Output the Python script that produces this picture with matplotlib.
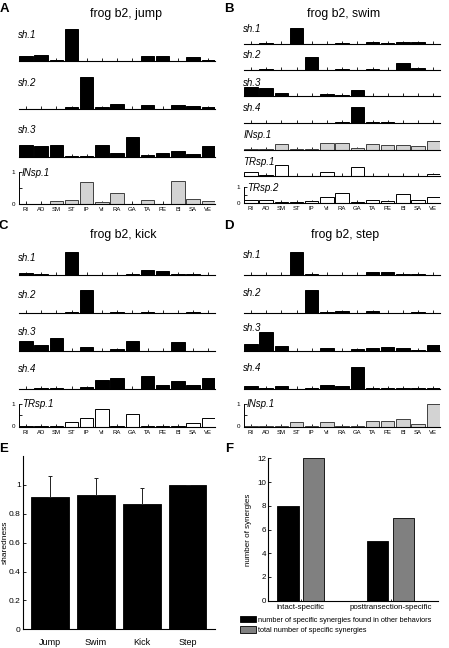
import numpy as np
import matplotlib
matplotlib.use('Agg')
import matplotlib.pyplot as plt

plt.rcParams['font.family'] = ['Liberation Sans', 'DejaVu Sans']

# muscles on the x axis of panels A-D
muscles = ['RI', 'AD', 'SM', 'ST', 'IP', 'VI', 'RA', 'GA', 'TA', 'PE', 'BI', 'SA', 'VE']

# A: jump
jump_sh1 = [0.16, 0.19, 0.04, 1.00, 0.01, 0.01, 0.01, 0.01, 0.17, 0.15, 0.01, 0.12, 0.03]
jump_sh2 = [0.01, 0.01, 0.01, 0.05, 1.00, 0.07, 0.16, 0.01, 0.13, 0.01, 0.13, 0.09, 0.06]
jump_sh3 = [0.39, 0.33, 0.39, 0.03, 0.03, 0.39, 0.14, 0.61, 0.07, 0.14, 0.19, 0.10, 0.33]
jump_insp1 = [0.00, 0.00, 0.08, 0.13, 0.68, 0.05, 0.33, 0.01, 0.12, 0.01, 0.73, 0.15, 0.10]

# B: swim
swim_sh1 = [0.01, 0.06, 0.01, 1.00, 0.01, 0.01, 0.02, 0.01, 0.10, 0.02, 0.10, 0.10, 0.01]
swim_sh2 = [0.01, 0.03, 0.01, 0.02, 0.85, 0.01, 0.06, 0.01, 0.05, 0.01, 0.43, 0.15, 0.01]
swim_sh3 = [0.57, 0.55, 0.24, 0.02, 0.02, 0.17, 0.08, 0.39, 0.01, 0.02, 0.01, 0.03, 0.04]
swim_sh4 = [0.01, 0.02, 0.01, 0.01, 0.01, 0.02, 0.05, 1.00, 0.04, 0.03, 0.02, 0.02, 0.02]
swim_insp1 = [0.01, 0.03, 0.37, 0.01, 0.01, 0.39, 0.43, 0.10, 0.37, 0.30, 0.30, 0.20, 0.52]
swim_trsp1 = [0.24, 0.04, 0.74, 0.01, 0.01, 0.26, 0.01, 0.57, 0.01, 0.03, 0.01, 0.01, 0.15]
swim_trsp2 = [0.17, 0.15, 0.04, 0.02, 0.10, 0.39, 0.61, 0.02, 0.15, 0.10, 0.57, 0.15, 0.37]

# C: kick
kick_sh1 = [0.12, 0.08, 0.01, 1.00, 0.02, 0.01, 0.01, 0.05, 0.26, 0.18, 0.06, 0.08, 0.01]
kick_sh2 = [0.01, 0.01, 0.01, 0.05, 1.00, 0.01, 0.07, 0.01, 0.07, 0.01, 0.03, 0.05, 0.01]
kick_sh3 = [0.45, 0.29, 0.59, 0.01, 0.19, 0.01, 0.09, 0.44, 0.01, 0.03, 0.41, 0.01, 0.02]
kick_sh4 = [0.01, 0.03, 0.03, 0.01, 0.07, 0.38, 0.48, 0.01, 0.55, 0.16, 0.32, 0.18, 0.48]
kick_trsp1 = [0.02, 0.02, 0.01, 0.18, 0.35, 0.75, 0.02, 0.55, 0.01, 0.01, 0.01, 0.17, 0.37]

# D: step
step_sh1 = [0.03, 0.03, 0.01, 1.00, 0.05, 0.01, 0.01, 0.03, 0.16, 0.14, 0.05, 0.05, 0.01]
step_sh2 = [0.01, 0.01, 0.03, 0.01, 1.00, 0.05, 0.08, 0.01, 0.11, 0.03, 0.03, 0.06, 0.01]
step_sh3 = [0.32, 0.82, 0.23, 0.01, 0.01, 0.12, 0.01, 0.10, 0.15, 0.19, 0.15, 0.04, 0.26]
step_sh4 = [0.11, 0.02, 0.14, 0.01, 0.03, 0.16, 0.12, 0.96, 0.03, 0.03, 0.04, 0.03, 0.03]
step_insp1 = [0.01, 0.01, 0.01, 0.20, 0.04, 0.20, 0.03, 0.02, 0.24, 0.26, 0.33, 0.10, 0.98]

# E: sharedness per behavior
behaviors = ['Jump', 'Swim', 'Kick', 'Step']
sharedness = [0.915, 0.93, 0.865, 0.998]
sharedness_err = [0.145, 0.117, 0.113, 0.003]

# F: specific synergies
categories = ['intact-specific', 'posttransection-specific']
found_other = [8, 5]
total_specific = [12, 7]

W, H = 449, 648
fig = plt.figure(figsize=(W / 100, H / 100), dpi=100)


def add_ax(left, right, base, height):
    # pixel box -> figure fraction
    return fig.add_axes([left / W, 1 - base / H, (right - left) / W, height / H])


colors = {'sh': ('black', 'black'), 'IN': ('#d3d3d3', '#404040'), 'TR': ('white', 'black')}

panels = [
    ('frog b2, jump', 19.3, 215, [61, 109, 157, 204], 32, [0.81, 0.81, 0.83, 0.97],
     [('sh.1', jump_sh1, 'sh'), ('sh.2', jump_sh2, 'sh'), ('sh.3', jump_sh3, 'sh'),
      ('INsp.1', jump_insp1, 'IN')], (126, 14)),
    ('frog b2, swim', 244.3, 440, [43.7, 69.9, 96.3, 122.9, 149.5, 176, 202.8], 15.5,
     [0.93, 0.93, 0.85, 0.93, 0.93, 0.93, 0.97],
     [('sh.1', swim_sh1, 'sh'), ('sh.2', swim_sh2, 'sh'), ('sh.3', swim_sh3, 'sh'),
      ('sh.4', swim_sh4, 'sh'), ('INsp.1', swim_insp1, 'IN'), ('TRsp.1', swim_trsp1, 'TR'),
      ('TRsp.2', swim_trsp2, 'TR')], (344, 14)),
    ('frog b2, kick', 19.3, 215, [275.5, 313.3, 351.2, 388.8, 426.5], 23,
     [0.78, 0.8, 0.84, 0.86, 0.97],
     [('sh.1', kick_sh1, 'sh'), ('sh.2', kick_sh2, 'sh'), ('sh.3', kick_sh3, 'sh'),
      ('sh.4', kick_sh4, 'sh'), ('TRsp.1', kick_trsp1, 'TR')], (123, 235)),
    ('frog b2, step', 244.3, 440, [275.5, 313.3, 351.2, 388.8, 426.5], 23,
     [0.88, 0.9, 1.0, 0.92, 0.97],
     [('sh.1', step_sh1, 'sh'), ('sh.2', step_sh2, 'sh'), ('sh.3', step_sh3, 'sh'),
      ('sh.4', step_sh4, 'sh'), ('INsp.1', step_insp1, 'IN')], (345, 235)),
]

x = np.arange(len(muscles))
bw = 0.88
for title, left, right, bases, h, label_y, rows, title_xy in panels:
    for i, (name, vals, kind) in enumerate(rows):
        ax = add_ax(left, right, bases[i], h)
        fc, ec = colors[kind]
        ax.bar(x, vals, width=bw, color=fc, edgecolor=ec, linewidth=0.7)
        ax.set_xlim(-bw / 2, len(muscles) - 1 + bw / 2)
        ax.set_ylim(0, 1)
        ax.set_axisbelow(True)
        for s in ['top', 'right']:
            ax.spines[s].set_visible(False)
        ax.spines['bottom'].set_linewidth(0.8)
        ax.set_xticks(x)
        ax.tick_params(axis='x', direction='in', length=2, width=0.6, labelsize=4.3, pad=2.5)
        last = i == len(rows) - 1
        if last:
            ax.set_xticklabels(muscles)
            ax.spines['left'].set_linewidth(0.7)
            ax.set_yticks([0, 0.5, 1])
            ax.set_yticklabels(['0', '', '1'])
            ax.tick_params(axis='y', direction='in', length=2.5, width=0.6, labelsize=4.5, pad=3)
            ax.text(0.012, label_y[i], name, transform=ax.transAxes, style='italic',
                    fontsize=7, ha='left', va='center')
        else:
            ax.set_xticklabels([])
            ax.spines['left'].set_visible(False)
            ax.set_yticks([])
            ax.text(-0.005, label_y[i], name, transform=ax.transAxes, style='italic',
                    fontsize=7, ha='left', va='center')
    fig.text(title_xy[0] / W, 1 - title_xy[1] / H, title, fontsize=8.8,
             ha='center', va='center')

# panel letters
for letter, px, py in [('A', 4, 8.5), ('B', 229, 8.5), ('C', 3.5, 226.5), ('D', 229, 226.5),
                       ('E', 3.7, 449), ('F', 229, 449)]:
    fig.text(px / W, 1 - py / H, letter, fontsize=9.5, fontweight='bold', ha='center', va='center')

# E: sharedness
axE = add_ax(22.7, 215, 629.3, 173.3)
xe = np.arange(1, len(behaviors) + 1)
axE.bar(xe, sharedness, width=0.82, color='black', edgecolor='black', linewidth=0.6)
axE.errorbar(xe, sharedness, yerr=[np.zeros(len(xe)), sharedness_err], fmt='none',
             ecolor='#202020', elinewidth=0.7, capsize=1.5, capthick=0.7)
axE.set_xlim(0.4, 4.6)
axE.set_ylim(0, 1.2)
axE.set_yticks([0, 0.2, 0.4, 0.6, 0.8, 1])
axE.set_yticklabels(['0', '0.2', '0.4', '0.6', '0.8', '1'])
axE.set_xticks(xe)
axE.set_xticklabels(behaviors)
axE.tick_params(axis='y', direction='in', length=2, width=0.6, labelsize=6, pad=1.5)
axE.tick_params(axis='x', direction='in', length=0, labelsize=6.5, pad=6)
for s in ['top', 'right']:
    axE.spines[s].set_visible(False)
for s in ['left', 'bottom']:
    axE.spines[s].set_linewidth(0.8)
axE.set_ylabel('sharedness', fontsize=6)
axE.yaxis.set_label_coords((9 - 22.7) / 192.3, 0.5)

# F: specific synergies
axF = add_ax(267.7, 438.3, 600.7, 142.4)
xf = np.arange(1, len(categories) + 1)
bF1 = axF.bar(xf - 0.143, found_other, width=0.237, color='black', edgecolor='black', linewidth=0.6)
bF2 = axF.bar(xf + 0.143, total_specific, width=0.237, color='#808080', edgecolor='black',
              linewidth=0.6)
axF.set_xlim(0.633, 2.53)
axF.set_ylim(0, 12)
axF.set_yticks(np.arange(0, 13, 2))
axF.set_xticks(xf)
axF.set_xticklabels(categories)
axF.tick_params(axis='y', direction='in', length=2, width=0.6, labelsize=5.8, pad=1)
axF.tick_params(axis='x', direction='in', length=1.5, width=0.6, labelsize=5.7, pad=2.5)
for s in ['top', 'right']:
    axF.spines[s].set_visible(False)
for s in ['left', 'bottom']:
    axF.spines[s].set_linewidth(0.8)
axF.set_ylabel('number of synergies', fontsize=5.8, labelpad=4)

fig.legend([bF1, bF2], ['number of specific synergies found in other behaviors',
                        'total number of specific synergies'],
           loc='upper left', bbox_to_anchor=(240 / W, 1 - 616 / H), frameon=False,
           fontsize=5.3, handlelength=2.2, handleheight=0.95, handletextpad=0.3,
           labelspacing=0.35, borderpad=0, borderaxespad=0)

fig.savefig('out.png', dpi=100)
